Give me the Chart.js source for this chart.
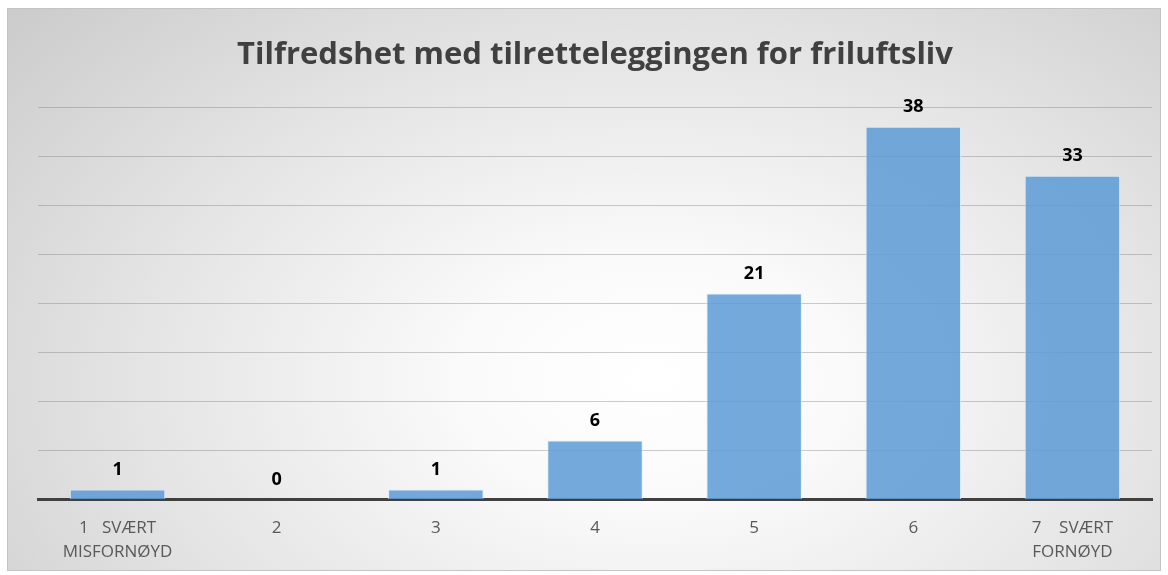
<!DOCTYPE html>
<html>
<head>
<meta charset="utf-8">
<script src="https://cdn.jsdelivr.net/npm/chart.js@4.4.1/dist/chart.umd.min.js"></script>
<style>
  html, body { margin: 0; padding: 0; background: #fff; }
  #frame {
    position: absolute; left: 7px; top: 8px; width: 1152px; height: 561px;
    border: 1px solid #c4c4c4;
    background: radial-gradient(ellipse 75% 100% at 56% 66%, #ffffff 0%, #fafafa 22%, #e4e4e4 60%, #cbcbcb 100%);
  }
  #wrap { position: absolute; left: 0; top: 0; width: 1168px; height: 575px; }
</style>
</head>
<body>
<div id="frame"></div>
<div id="wrap"><canvas id="barChart"></canvas></div>
<script>
// categories, values, y ticks
var categories = [['1   SVÆRT', 'MISFORNØYD'], '2', '3', '4', '5', '6', ['7    SVÆRT', 'FORNØYD']];
var counts = [1, 0, 1, 6, 21, 38, 33];
var yTicks = [0, 5, 10, 15, 20, 25, 30, 35, 40];

var fontFamily = "'Open Sans', 'Liberation Sans', sans-serif";

// draws the number above each bar
var valueLabels = {
  id: 'valueLabels',
  afterDatasetsDraw: function(chart) {
    var ctx = chart.ctx;
    var meta = chart.getDatasetMeta(0);
    ctx.save();
    ctx.font = 'bold 18px ' + fontFamily;
    ctx.fillStyle = '#000';
    ctx.textAlign = 'center';
    ctx.textBaseline = 'bottom';
    meta.data.forEach(function(bar, i) {
      ctx.fillText(counts[i], bar.x, bar.y - 11);
    });
    ctx.restore();
  }
};

var ctx = document.getElementById('barChart').getContext('2d');
var chart = new Chart(ctx, {
  type: 'bar',
  data: {
    labels: categories,
    datasets: [{
      data: counts,
      backgroundColor: 'rgba(91, 155, 213, 0.85)',
      borderColor: 'rgba(220, 235, 250, 0.8)',
      borderWidth: 1,
      barPercentage: 0.6,
      categoryPercentage: 1
    }]
  },
  options: {
    responsive: true,
    maintainAspectRatio: false,
    animation: false,
    layout: { padding: { left: 38, right: 16, top: 10, bottom: -6 } },
    plugins: {
      legend: { display: false },
      tooltip: { enabled: false },
      title: {
        display: true,
        text: 'Tilfredshet med tilretteleggingen for friluftsliv',
        color: '#404040',
        font: { family: fontFamily, size: 31, weight: 'bold' },
        padding: { top: 27, bottom: 33 }
      }
    },
    scales: {
      x: {
        grid: { display: false, drawTicks: false },
        border: { display: true, color: '#404040', width: 3 },
        ticks: {
          color: '#595959',
          font: { family: fontFamily, size: 17, lineHeight: 1.4 },
          maxRotation: 0,
          padding: 17
        }
      },
      y: {
        min: 0,
        max: 40,
        afterBuildTicks: function(axis) {
          axis.ticks = yTicks.map(function(v) { return { value: v }; });
        },
        grid: { color: 'rgba(120, 120, 120, 0.38)', drawTicks: false },
        border: { display: false },
        ticks: { display: false }
      }
    }
  },
  plugins: [valueLabels]
});
</script>
</body>
</html>
